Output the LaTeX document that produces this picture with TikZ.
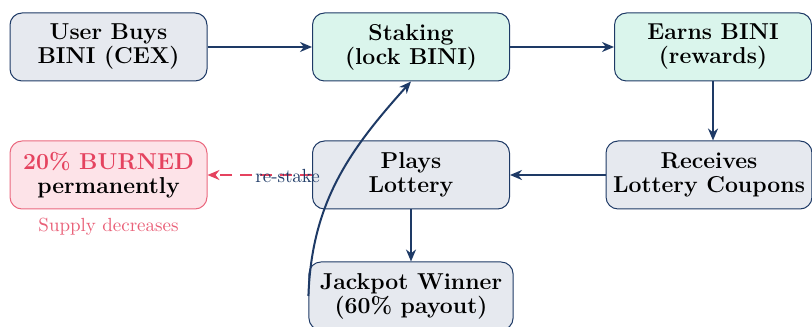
\documentclass[tikz,border=0pt]{standalone}
\usetikzlibrary{arrows.meta}
\definecolor{navy}{HTML}{1E3A66}
\definecolor{boxgray}{HTML}{E6E9EF}
\definecolor{boxgreen}{HTML}{DAF5EC}
\definecolor{burnfill}{HTML}{FDE3E8}
\definecolor{burnred}{HTML}{E5435F}

\begin{document}
\begin{tikzpicture}[x=5pt, y=5pt,
    every node/.style={font=\fontsize{11.5}{12}\selectfont\bfseries, align=center},
    flowbox/.style={draw=navy, rounded corners=6pt, minimum width=98.5pt, minimum height=34pt, inner xsep=3.5pt, line width=0.5pt},
    smalltext/.style={font=\fontsize{9.5}{11}\selectfont\mdseries},
    flow/.style={-{Stealth[length=6pt,width=5pt]}, draw=navy, line width=1pt}]

	\useasboundingbox (0,0) rectangle (81.2,32.6);

	% top row
	\node[flowbox, fill=boxgray] (buy) at (10.85, 27.9) {User Buys\\BINI (CEX)};
	\node[flowbox, fill=boxgreen] (stake) at (41.1, 27.9) {Staking\\(lock BINI)};
	\node[flowbox, fill=boxgreen] (earn) at (71.3, 27.9) {Earns BINI\\(rewards)};

	% middle row
	\node[flowbox, fill=boxgray] (coupons) at (70.9, 15.1) {Receives\\Lottery Coupons};
	\node[flowbox, fill=boxgray] (lottery) at (41.1, 15.1) {Plays\\Lottery};
	\node[flowbox, fill=burnfill, draw=burnred!80] (burn) at (10.85, 15.1) {\textcolor{burnred}{20\% BURNED}\\permanently};
	\node[smalltext, text=burnred!85] (supply) at (10.85, 9.9) {Supply decreases};

	% bottom
	\node[flowbox, fill=boxgray, inner xsep=5.5pt] (jackpot) at (41.1, 3.0) {Jackpot Winner\\(60\% payout)};

	\draw[flow] (buy) -- (stake);
	\draw[flow] (stake) -- (earn);
	\draw[flow] (earn.south) -- (earn.south |- coupons.north);
	\draw[flow] (coupons) -- (lottery);
	\draw[flow] (lottery) -- (jackpot);
	\draw[flow, draw=burnred, dashed, dash pattern=on 6pt off 4pt, line width=0.8pt] (lottery) -- (burn);
	\draw[flow] (jackpot.west) to[out=88, in=228]
		node[pos=0.5, left=5pt, yshift=1.7pt, smalltext, text=navy] (restake) {re-stake} (stake.south);
\end{tikzpicture}
\end{document}
